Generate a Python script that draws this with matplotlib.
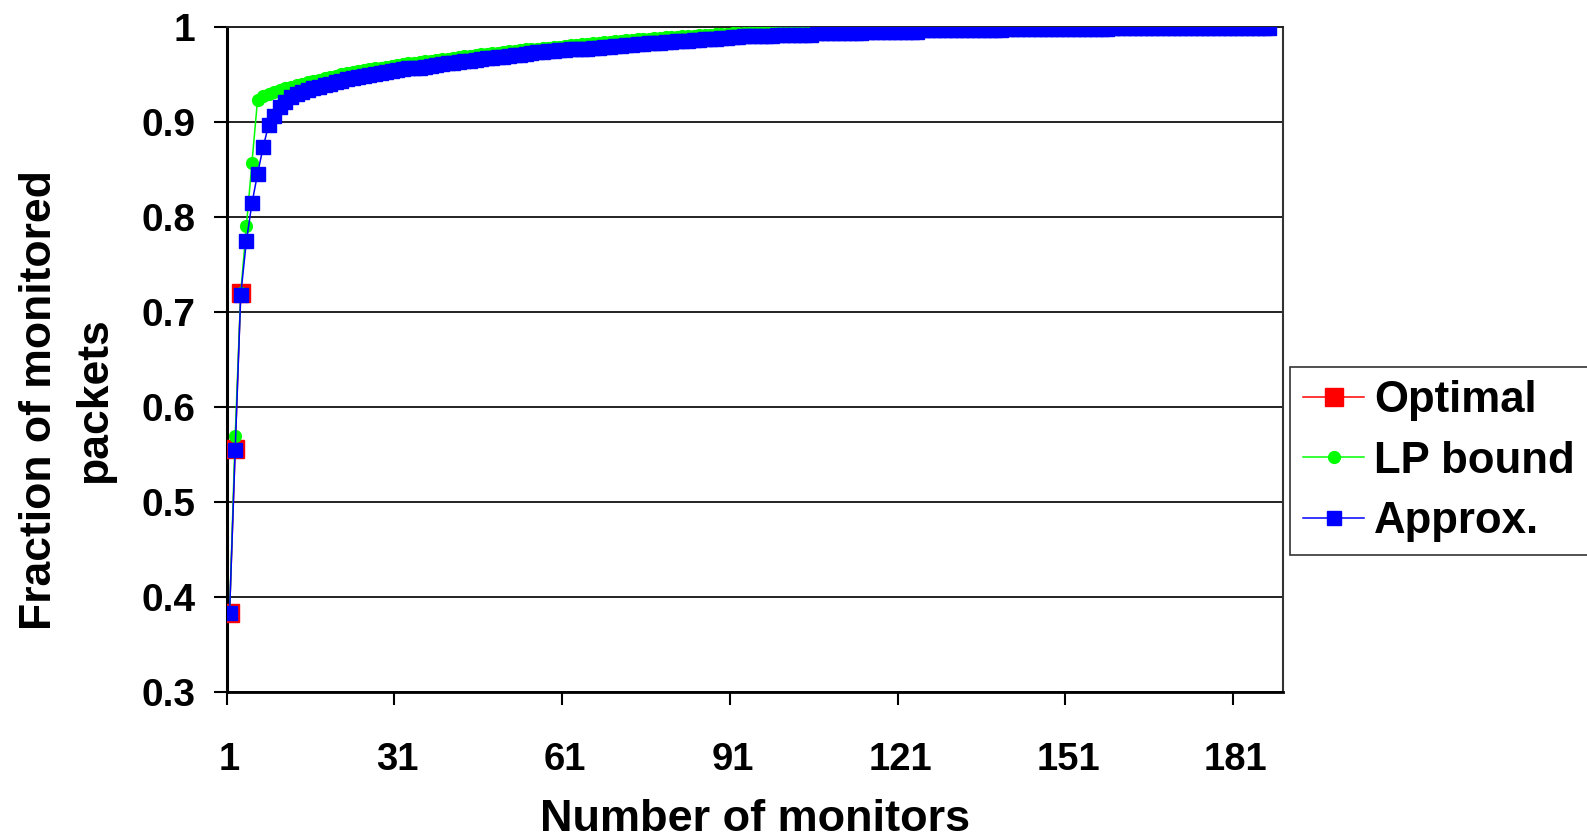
import numpy as np
import matplotlib
matplotlib.use('Agg')
import matplotlib.pyplot as plt
from matplotlib.ticker import FixedLocator



# Data --------------------------------------------

# Fraction of monitored packets for 1..3 monitors (optimal solution)
optimal = [0.383, 0.555, 0.720]

# LP bound, one value per number of monitors (1..187)
lp_bound = [
    0.383, 0.569, 0.720, 0.790, 0.856, 0.923, 0.927, 0.929, 0.931, 0.933,
    0.935, 0.937, 0.939, 0.940, 0.942, 0.943, 0.944, 0.946, 0.947, 0.948,
    0.950, 0.951, 0.952, 0.953, 0.954, 0.955, 0.956, 0.957, 0.958, 0.959,
    0.960, 0.961, 0.962, 0.962, 0.963, 0.964, 0.964, 0.965, 0.966, 0.966,
    0.967, 0.968, 0.969, 0.969, 0.970, 0.971, 0.971, 0.972, 0.972, 0.973,
    0.974, 0.974, 0.975, 0.976, 0.976, 0.977, 0.978, 0.978, 0.979, 0.979,
    0.980, 0.981, 0.981, 0.982, 0.982, 0.983, 0.983, 0.984, 0.984, 0.985,
    0.985, 0.986, 0.986, 0.987, 0.987, 0.987, 0.988, 0.988, 0.989, 0.989,
    0.989, 0.990, 0.990, 0.990, 0.991, 0.991, 0.991, 0.992, 0.992, 0.992,
    0.993, 0.993, 0.993, 0.993, 0.994, 0.994, 0.994, 0.995, 0.995, 0.995,
    0.995, 0.996, 0.996, 0.996, 0.996, 0.997, 0.997, 0.997, 0.997, 0.998,
    0.998, 0.998, 0.998, 0.998, 0.998, 0.999, 0.999, 0.999, 0.999, 0.999,
    0.999, 0.999, 0.999, 0.999, 0.999, 1.000, 1.000, 1.000, 1.000, 1.000,
    1.000, 1.000, 1.000, 1.000, 1.000, 1.000, 1.000, 1.000, 1.000, 1.000,
    1.000, 1.000, 1.000, 1.000, 1.000, 1.000, 1.000, 1.000, 1.000, 1.000,
    1.000, 1.000, 1.000, 1.000, 1.000, 1.000, 1.000, 1.000, 1.000, 1.000,
    1.000, 1.000, 1.000, 1.000, 1.000, 1.000, 1.000, 1.000, 1.000, 1.000,
    1.000, 1.000, 1.000, 1.000, 1.000, 1.000, 1.000, 1.000, 1.000, 1.000,
    1.000, 1.000, 1.000, 1.000, 1.000, 1.000, 1.000,
]

# Approximation algorithm, one value per number of monitors (1..187)
approx = [
    0.383, 0.554, 0.718, 0.774, 0.814, 0.845, 0.873, 0.897, 0.906, 0.915,
    0.921, 0.926, 0.929, 0.931, 0.933, 0.935, 0.937, 0.939, 0.940, 0.942,
    0.943, 0.945, 0.946, 0.947, 0.948, 0.949, 0.950, 0.951, 0.952, 0.953,
    0.954, 0.955, 0.956, 0.957, 0.957, 0.958, 0.959, 0.960, 0.961, 0.962,
    0.962, 0.963, 0.964, 0.964, 0.965, 0.966, 0.967, 0.967, 0.968, 0.968,
    0.969, 0.970, 0.970, 0.971, 0.972, 0.973, 0.973, 0.974, 0.974, 0.975,
    0.975, 0.976, 0.976, 0.977, 0.977, 0.978, 0.978, 0.979, 0.979, 0.980,
    0.980, 0.981, 0.981, 0.982, 0.982, 0.983, 0.983, 0.983, 0.984, 0.984,
    0.985, 0.985, 0.985, 0.986, 0.986, 0.987, 0.987, 0.987, 0.988, 0.988,
    0.989, 0.989, 0.990, 0.990, 0.990, 0.990, 0.990, 0.990, 0.991, 0.991,
    0.991, 0.991, 0.991, 0.991, 0.991, 0.993, 0.993, 0.993, 0.993, 0.993,
    0.993, 0.993, 0.993, 0.993, 0.994, 0.994, 0.994, 0.994, 0.994, 0.994,
    0.994, 0.994, 0.994, 0.994, 0.996, 0.996, 0.996, 0.996, 0.996, 0.996,
    0.996, 0.996, 0.996, 0.996, 0.996, 0.996, 0.996, 0.996, 0.996, 0.998,
    0.998, 0.998, 0.998, 0.998, 0.998, 0.998, 0.998, 0.998, 0.998, 0.998,
    0.998, 0.998, 0.998, 0.998, 0.998, 0.998, 0.998, 0.998, 0.999, 0.999,
    0.999, 0.999, 0.999, 0.999, 0.999, 0.999, 0.999, 0.999, 0.999, 0.999,
    0.999, 0.999, 0.999, 0.999, 0.999, 0.999, 0.999, 0.999, 0.999, 0.999,
    0.999, 0.999, 0.999, 0.999, 0.999, 0.999, 0.999,
]

x_tick_labels = ['1', '31', '61', '91', '121', '151', '181']
y_tick_labels = ['0.3', '0.4', '0.5', '0.6', '0.7', '0.8', '0.9', '1']



# Figure setup ---------------------

plt.rcParams['font.family'] = ['Liberation Sans', 'DejaVu Sans']
plt.rcParams['font.weight'] = 'bold'

fig = plt.figure(figsize=(15.87, 8.39), dpi=100)
ax = fig.add_axes([0.1429, 0.1756, 0.6657, 0.7926])

n_opt = np.arange(1, len(optimal) + 1)
n_lp = np.arange(1, len(lp_bound) + 1)
n_app = np.arange(1, len(approx) + 1)

ax.plot(n_opt, optimal, color='#FF0000', lw=1.1, marker='s', ms=12.5,
        mec='#FF0000', mfc='#FF0000', label='Optimal', zorder=3)
ax.plot(n_lp, lp_bound, color='#00FF00', lw=1.1, marker='o', ms=8.5,
        mec='#00FF00', mfc='#00FF00', label='LP bound', zorder=4)
ax.plot(n_app, approx, color='#0000FF', lw=1.1, marker='s', ms=10.5,
        mec='#0000FF', mfc='#0000FF', label='Approx.', zorder=5)



# Axes styling -----------------

ax.set_xlim(0.5, 189.5)
ax.set_ylim(0.3, 1.0)

# category labels centred on the category, tick marks on the boundaries
ax.xaxis.set_major_locator(FixedLocator([1, 31, 61, 91, 121, 151, 181]))
ax.set_xticklabels(x_tick_labels)
ax.xaxis.set_minor_locator(FixedLocator([0.5, 30.5, 60.5, 90.5, 120.5, 150.5, 180.5]))
ax.tick_params(axis='x', which='major', length=0, pad=36, labelsize=27.5)
ax.tick_params(axis='x', which='minor', length=9.4, width=1.5, direction='out')

ax.set_yticks(np.arange(0.3, 1.01, 0.1))
ax.set_yticklabels(y_tick_labels)
ax.tick_params(axis='y', length=9.4, width=1.5, direction='out', pad=13, labelsize=28)

ax.grid(axis='y', color='#222222', lw=1.4)
ax.set_axisbelow(True)

ax.spines['left'].set_linewidth(2.2)
ax.spines['bottom'].set_linewidth(2.0)
ax.spines['top'].set_linewidth(1.4)
ax.spines['top'].set_color('#222222')
ax.spines['right'].set_linewidth(1.5)
ax.spines['right'].set_color('#333333')

# axis titles placed as in the original
fig.text(755 / 1587, 0.009, 'Number of monitors', ha='center', va='baseline',
         fontsize=32.5, fontweight='bold')
fig.text(67 / 1587, 1 - 400 / 839, 'Fraction of monitored\npackets', rotation=90,
         ha='center', va='center', multialignment='center', linespacing=1.45,
         fontsize=32, fontweight='bold')

# Legend -----------------

leg = fig.legend(loc='upper left', bbox_to_anchor=(1290 / 1587, 1 - 366.7 / 839),
                 borderaxespad=0, frameon=True, fancybox=False, edgecolor='black',
                 prop={'family': 'Liberation Sans', 'weight': 'bold', 'size': 31.5},
                 handlelength=1.4, handletextpad=0.22, labelspacing=0.45,
                 borderpad=0.3, numpoints=1)
leg.get_frame().set_linewidth(1.2)

fig.savefig('out.png', dpi=100)
